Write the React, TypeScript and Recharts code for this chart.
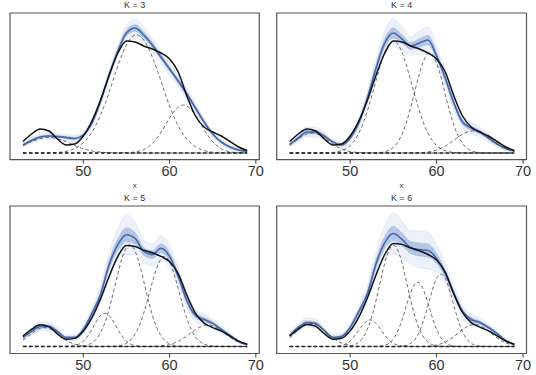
import React from "react";
import {
  ComposedChart,
  Line,
  Area,
  XAxis,
  YAxis,
  ReferenceArea,
  ReferenceLine,
} from "recharts";

// grid of x values the densities were read at
const xs = [43, 44, 45, 46, 47, 48, 49, 50, 51, 52, 53, 54, 55, 56, 57, 58, 59, 60, 61, 62, 63, 64, 65, 66, 67, 68, 69];

// kernel density of the data (same in every panel), density x 1000
const kde = [11.5, 19, 24, 22, 14, 8, 9, 17, 32, 53, 78, 100, 112, 111, 107, 104, 100, 94, 81, 57, 37, 26, 21, 17, 11.5, 6, 2.5];

// posterior mean density per K
const meanK3 = [8, 12.5, 16, 17, 16.5, 15.5, 14.5, 18, 30, 52, 78, 102, 120, 125, 118, 108, 96, 84, 72, 59, 45, 31, 19, 11, 6, 3, 1.5];
const meanK4 = [8.5, 15, 21, 21, 17, 11, 8, 15, 30, 55, 85, 110, 120, 114, 107, 110, 113, 97, 75, 50, 31, 25, 21, 15, 9, 4.5, 2];
const meanK5 = [10, 16.7, 22.2, 22.2, 16.7, 10, 10, 18.9, 36.7, 57.8, 91, 113, 124, 120, 105.5, 102, 109, 100, 77.8, 51, 34.4, 30, 25.6, 18.9, 12.2, 5.6, 2.2];
const meanK6 = [12, 20.7, 26.1, 25, 17.4, 9.8, 10.9, 20.7, 38, 57.6, 90.2, 113, 122.8, 116.3, 107.6, 105.4, 104.3, 95.7, 79.3, 57.6, 38, 29.3, 26.1, 20.7, 14.1, 6.5, 2.2];

// half width of the cloud of posterior draws
const spreadK3 = [3, 3, 3, 3, 3, 3, 3, 3, 4, 4, 5, 6, 8, 9, 8, 7, 6, 6, 6, 6, 5, 4, 3, 3, 2, 2, 1];
const spreadK4 = [3, 4, 5, 5, 4, 3, 3, 4, 5, 7, 9, 12, 14, 12, 9, 12, 13, 10, 8, 7, 6, 6, 5, 4, 3, 2, 1];
const spreadK5 = [3, 4, 5, 5, 4, 3, 3, 4, 6, 9, 13, 18, 22, 18, 12, 12, 14, 12, 9, 8, 7, 6, 5, 4, 3, 2, 1];
const spreadK6 = [3, 4, 5, 5, 4, 3, 3, 4, 6, 9, 13, 18, 22, 20, 18, 20, 20, 15, 10, 8, 7, 6, 5, 4, 3, 2, 1];

// weighted mixture components
const compsK3 = [
  [7.5, 11.3, 14.3, 15.5, 14.3, 11.3, 7.5, 4.3, 2.1, 0.9, 0.3, 0.1, 0, 0, 0, 0, 0, 0, 0, 0, 0, 0, 0, 0, 0, 0, 0],
  [0, 0, 0, 0.2, 0.5, 1.6, 4.3, 10.2, 21, 38, 61, 87, 108, 118, 113, 96, 72, 47, 27, 13.8, 6.2, 2.4, 0.8, 0.3, 0.1, 0, 0],
  [0, 0, 0, 0, 0, 0, 0, 0, 0, 0, 0, 0, 0.2, 1, 3.4, 9.5, 20.6, 35, 46, 47, 37.6, 23.4, 11.3, 4.3, 1.2, 0.3, 0],
];
const compsK4 = [
  [7.8, 14, 19, 19.6, 15.2, 9, 4, 1.4, 0.4, 0.1, 0, 0, 0, 0, 0, 0, 0, 0, 0, 0, 0, 0, 0, 0, 0, 0, 0],
  [0, 0, 0, 0, 0.1, 0.6, 2.3, 7.5, 19.8, 42.3, 72.7, 100.6, 112, 100.6, 72.7, 42.3, 19.8, 7.5, 2.3, 0.6, 0.1, 0, 0, 0, 0, 0, 0],
  [0, 0, 0, 0, 0, 0, 0, 0, 0, 0, 0.2, 1.2, 5.6, 18.8, 45.4, 79, 99.4, 90.1, 58.9, 27.8, 9.5, 2.3, 0.4, 0, 0, 0, 0],
  [0, 0, 0, 0, 0, 0, 0, 0, 0, 0, 0, 0, 0, 0, 0.1, 0.3, 1, 3, 6.9, 12.7, 18.7, 21.9, 20.5, 15.2, 9, 4.3, 1.6],
];
const compsK5 = [
  [7.1, 14.2, 20.1, 20.1, 14.2, 7.1, 2.5, 0.6, 0.1, 0, 0, 0, 0, 0, 0, 0, 0, 0, 0, 0, 0, 0, 0, 0, 0, 0, 0],
  [0, 0, 0, 0, 0, 0, 1, 5.8, 19, 34.4, 34.4, 19, 5.8, 1, 0.1, 0, 0, 0, 0, 0, 0, 0, 0, 0, 0, 0, 0],
  [0, 0, 0, 0, 0, 0, 0, 0.7, 4, 15.3, 41.7, 80.5, 110, 106, 72.6, 35, 12, 2.9, 0.5, 0.1, 0, 0, 0, 0, 0, 0, 0],
  [0, 0, 0, 0, 0, 0, 0, 0, 0, 0, 0, 0.6, 3.5, 13.5, 36.9, 71.2, 97.3, 94, 64.2, 31, 10.6, 2.6, 0.4, 0, 0, 0, 0],
  [0, 0, 0, 0, 0, 0, 0, 0, 0, 0, 0, 0, 0, 0, 0, 0.1, 0.6, 2.1, 5.7, 11.7, 18.8, 23.5, 22.9, 17.4, 10.3, 4.8, 1.7],
];
const compsK6 = [
  [9.5, 17.7, 24, 24, 17.7, 9.5, 3.8, 1.1, 0.2, 0, 0, 0, 0, 0, 0, 0, 0, 0, 0, 0, 0, 0, 0, 0, 0, 0, 0],
  [0, 0, 0, 0, 0, 0, 1.2, 6.1, 17.6, 28.2, 25.1, 12.3, 3.4, 0.5, 0.1, 0, 0, 0, 0, 0, 0, 0, 0, 0, 0, 0, 0],
  [0, 0, 0, 0, 0, 0, 0, 0.8, 4.8, 19, 50.4, 90.5, 110, 90.5, 50.4, 19, 4.8, 0.8, 0.1, 0, 0, 0, 0, 0, 0, 0, 0],
  [0, 0, 0, 0, 0, 0, 0, 0, 0, 0, 0.1, 1.3, 8.2, 28.8, 58.7, 69.2, 47.1, 18.5, 4.3, 0.5, 0, 0, 0, 0, 0, 0, 0],
  [0, 0, 0, 0, 0, 0, 0, 0, 0, 0, 0, 0, 0, 0.4, 3.5, 16, 44.5, 74.1, 74.1, 44.5, 16, 3.5, 0.4, 0, 0, 0, 0],
  [0, 0, 0, 0, 0, 0, 0, 0, 0, 0, 0, 0, 0, 0, 0, 0, 0.4, 1.6, 4.8, 10.8, 18.3, 23.5, 22.8, 16.8, 9.4, 4, 1.3],
];

const xTicks = [50, 60, 70];
const X_DOMAIN: [number, number] = [41.5, 70.4];
const FONT = "'Liberation Sans', Arial, sans-serif";

interface PanelProps {
  title: string;
  mean: number[];
  spread: number[];
  comps: number[][];
  yDomain: [number, number];
  left: number;
  top: number;
  width: number;
  height: number;
  margin: { top: number; left: number; right: number; bottom: number };
  axisHeight: number;
  showXLabel: boolean;
}

function Panel({
  title,
  mean,
  spread,
  comps,
  yDomain,
  left,
  top,
  width,
  height,
  margin,
  axisHeight,
  showXLabel,
}: PanelProps) {
  const rows = xs.map((x, i) => {
    const row: Record<string, number | number[]> = {
      x,
      kde: kde[i],
      mean: mean[i],
      outer: [mean[i] - spread[i], mean[i] + spread[i]],
      inner: [mean[i] - spread[i] * 0.35, mean[i] + spread[i] * 0.35],
    };
    comps.forEach((c, k) => (row[`c${k}`] = c[i]));
    return row;
  });
  const plotLeft = margin.left;
  const plotRight = width - margin.right;
  return (
    <div style={{ position: "absolute", left, top, width, height }}>
      <div
        style={{
          position: "absolute",
          left: plotLeft,
          width: plotRight - plotLeft,
          top: margin.top - 12,
          textAlign: "center",
          fontSize: 9,
          lineHeight: "9px",
          color: "#333",
          fontFamily: FONT,
        }}
      >
        {title}
      </div>
      <ComposedChart width={width} height={height} data={rows} margin={margin}>
        <XAxis
          dataKey="x"
          type="number"
          domain={X_DOMAIN}
          allowDataOverflow
          ticks={xTicks}
          height={axisHeight}
          axisLine={false}
          tickSize={4}
          tickLine={{ stroke: "#333" }}
          tick={{ fontSize: 14.5, fill: "#333", fontFamily: FONT }}
          label={
            showXLabel
              ? { value: "x", position: "insideBottom", offset: 2, fontSize: 8, fill: "#333", fontFamily: FONT }
              : undefined
          }
        />
        <YAxis hide domain={yDomain} allowDataOverflow />
        <Area
          dataKey="outer"
          type="monotone"
          stroke="#d3ddf1"
          strokeWidth={0.5}
          fill="#dfe7f5"
          fillOpacity={0.6}
          isAnimationActive={false}
        />
        <Area
          dataKey="inner"
          type="monotone"
          stroke="#90a9d8"
          strokeWidth={0.5}
          fill="#93acd9"
          fillOpacity={0.6}
          isAnimationActive={false}
        />
        <Line
          dataKey="mean"
          type="monotone"
          stroke="#4566a9"
          strokeWidth={1.6}
          dot={false}
          isAnimationActive={false}
        />
        {comps.map((_, k) => (
          <Line
            key={k}
            dataKey={`c${k}`}
            type="natural"
            stroke="#4a4a4a"
            strokeWidth={0.8}
            strokeDasharray="3.5 2.5"
            dot={false}
            isAnimationActive={false}
          />
        ))}
        <ReferenceLine
          segment={[
            { x: 43, y: 0 },
            { x: 69, y: 0 },
          ]}
          stroke="#222"
          strokeWidth={1.3}
          strokeDasharray="3.5 2.5"
        />
        <Line
          dataKey="kde"
          type="monotone"
          stroke="#111"
          strokeWidth={1.5}
          dot={false}
          isAnimationActive={false}
        />
        <ReferenceArea
          x1={X_DOMAIN[0]}
          x2={X_DOMAIN[1]}
          y1={yDomain[0]}
          y2={yDomain[1]}
          stroke="#555"
          strokeWidth={1.2}
          fill="none"
          ifOverflow="visible"
        />
      </ComposedChart>
    </div>
  );
}

export default function App() {
  const topMargin = { top: 13, left: 10, right: 8.7, bottom: 0 };
  const topMarginR = { top: 13, left: 8.7, right: 9.5, bottom: 0 };
  const botMargin = { top: 16, left: 10, right: 8.7, bottom: 0 };
  const botMarginR = { top: 16, left: 8.7, right: 9.5, bottom: 0 };
  return (
    <div
      style={{
        position: "absolute",
        left: 0,
        top: 0,
        width: 536,
        height: 375,
        background: "#fff",
        overflow: "hidden",
      }}
    >
      <Panel title="K = 3" mean={meanK3} spread={spreadK3} comps={compsK3} yDomain={[-6.6, 140]}
        left={0} top={0} width={268} height={190} margin={topMargin} axisHeight={30.4} showXLabel />
      <Panel title="K = 4" mean={meanK4} spread={spreadK4} comps={compsK4} yDomain={[-6.6, 140]}
        left={268} top={0} width={268} height={190} margin={topMarginR} axisHeight={30.4} showXLabel />
      <Panel title="K = 5" mean={meanK5} spread={spreadK5} comps={compsK5} yDomain={[-7.8, 156]}
        left={0} top={190} width={268} height={185} margin={botMargin} axisHeight={21.5} showXLabel={false} />
      <Panel title="K = 6" mean={meanK6} spread={spreadK6} comps={compsK6} yDomain={[-7.6, 152.7]}
        left={268} top={190} width={268} height={185} margin={botMarginR} axisHeight={21.5} showXLabel={false} />
    </div>
  );
}
